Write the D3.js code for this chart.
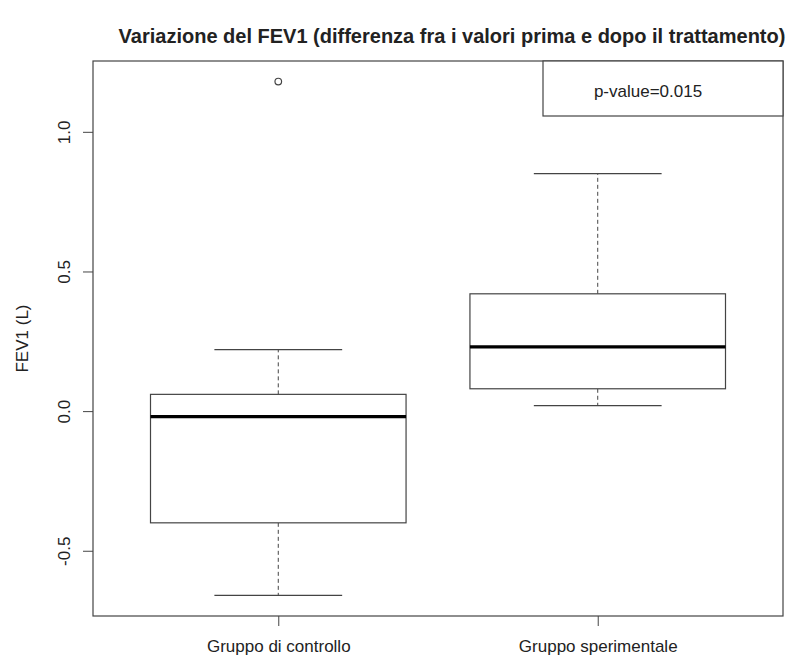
<!DOCTYPE html>
<html>
<head>
<meta charset="utf-8">
<script src="https://cdn.jsdelivr.net/npm/d3@7"></script>
<style>
  body { margin: 0; background: #fff; }
  text { font-family: "Liberation Sans", Arial, sans-serif; fill: #222; }
</style>
</head>
<body>
<div id="chart"></div>
<script>
// FEV1 change boxplot
const groups = ['Gruppo di controllo', 'Gruppo sperimentale'];
const whiskerLow = [-0.66, 0.02];
const q1 = [-0.40, 0.08];
const medians = [-0.02, 0.23];
const q3 = [0.06, 0.42];
const whiskerHigh = [0.22, 0.85];
const outliers = [[1.18], []];
const yTicks = [-0.5, 0.0, 0.5, 1.0];
const pValueText = 'p-value=0.015';

const W = 794, H = 655;
const plot = { left: 93, right: 783, top: 61, bottom: 616 };
const labelSize = '17px';

const svg = d3.select('#chart').append('svg')
  .attr('width', W).attr('height', H);

// R-like 4% axis expansion
const allVals = d3.merge([whiskerLow, whiskerHigh, d3.merge(outliers)]);
const [lo, hi] = d3.extent(allVals);
const pad = (hi - lo) * 0.04;
const y = d3.scaleLinear().domain([lo - pad, hi + pad]).range([plot.bottom, plot.top]);
const x = d3.scaleLinear().domain([0.42, groups.length + 0.58]).range([plot.left, plot.right]);

const stroke = '#444';
const fmt = d => d3.format('.1f')(d).replace('\u2212', '-');

// y axis
const yAxisG = svg.append('g').attr('transform', `translate(${plot.left},0)`)
  .call(d3.axisLeft(y).tickValues(yTicks).tickSize(10).tickFormat(fmt));
yAxisG.select('.domain').remove();
yAxisG.selectAll('line').attr('stroke', stroke);
yAxisG.selectAll('text')
  .attr('x', 0).attr('dy', 0)
  .attr('transform', 'translate(-23,0) rotate(-90)')
  .attr('text-anchor', 'middle')
  .style('font-size', labelSize).style('font-family', '"Liberation Sans", Arial, sans-serif')
  .attr('fill', '#222');

// x axis
const xAxisG = svg.append('g').attr('transform', `translate(0,${plot.bottom})`)
  .call(d3.axisBottom(x).tickValues(groups.map((g, i) => i + 1)).tickSize(10)
    .tickFormat((d, i) => groups[i]));
xAxisG.select('.domain').remove();
xAxisG.selectAll('line').attr('stroke', stroke);
xAxisG.selectAll('text')
  .attr('y', 36).attr('dy', 0)
  .style('font-size', labelSize).style('font-family', '"Liberation Sans", Arial, sans-serif')
  .attr('fill', '#222');

// plot frame
svg.append('rect')
  .attr('x', plot.left).attr('y', plot.top)
  .attr('width', plot.right - plot.left).attr('height', plot.bottom - plot.top)
  .attr('fill', 'none').attr('stroke', stroke).attr('stroke-width', 1.2);

// boxes
const boxHalf = x(1.4) - x(1);
const capHalf = x(1.2) - x(1);
const boxes = svg.append('g').selectAll('g').data(groups).join('g');

boxes.append('line') // upper whisker
  .attr('x1', (d, i) => x(i + 1)).attr('x2', (d, i) => x(i + 1))
  .attr('y1', (d, i) => y(q3[i])).attr('y2', (d, i) => y(whiskerHigh[i]))
  .attr('stroke', stroke).attr('stroke-dasharray', '4,3');
boxes.append('line') // lower whisker
  .attr('x1', (d, i) => x(i + 1)).attr('x2', (d, i) => x(i + 1))
  .attr('y1', (d, i) => y(q1[i])).attr('y2', (d, i) => y(whiskerLow[i]))
  .attr('stroke', stroke).attr('stroke-dasharray', '4,3');
boxes.append('line') // upper staple
  .attr('x1', (d, i) => x(i + 1) - capHalf).attr('x2', (d, i) => x(i + 1) + capHalf)
  .attr('y1', (d, i) => y(whiskerHigh[i])).attr('y2', (d, i) => y(whiskerHigh[i]))
  .attr('stroke', stroke).attr('stroke-width', 1.2);
boxes.append('line') // lower staple
  .attr('x1', (d, i) => x(i + 1) - capHalf).attr('x2', (d, i) => x(i + 1) + capHalf)
  .attr('y1', (d, i) => y(whiskerLow[i])).attr('y2', (d, i) => y(whiskerLow[i]))
  .attr('stroke', stroke).attr('stroke-width', 1.2);
boxes.append('rect')
  .attr('x', (d, i) => x(i + 1) - boxHalf).attr('width', 2 * boxHalf)
  .attr('y', (d, i) => y(q3[i])).attr('height', (d, i) => y(q1[i]) - y(q3[i]))
  .attr('fill', '#fff').attr('stroke', stroke).attr('stroke-width', 1.2);
boxes.append('line') // median
  .attr('x1', (d, i) => x(i + 1) - boxHalf).attr('x2', (d, i) => x(i + 1) + boxHalf)
  .attr('y1', (d, i) => y(medians[i])).attr('y2', (d, i) => y(medians[i]))
  .attr('stroke', '#000').attr('stroke-width', 3.2);

// outliers
svg.append('g').selectAll('circle')
  .data(d3.merge(outliers.map((arr, i) => arr.map(v => ({ g: i, v })))))
  .join('circle')
  .attr('cx', d => x(d.g + 1)).attr('cy', d => y(d.v)).attr('r', 3.3)
  .attr('fill', 'none').attr('stroke', stroke).attr('stroke-width', 1.2);

// legend box (top right)
const legend = svg.append('g');
legend.append('rect')
  .attr('x', 543).attr('y', plot.top)
  .attr('width', plot.right - 543).attr('height', 55)
  .attr('fill', '#fff').attr('stroke', stroke).attr('stroke-width', 1.2);
legend.append('text')
  .attr('x', 648).attr('y', 97).attr('text-anchor', 'middle')
  .style('font-size', labelSize).text(pValueText);

// y label
svg.append('text')
  .attr('transform', `translate(28,${(plot.top + plot.bottom) / 2}) rotate(-90)`)
  .attr('text-anchor', 'middle').style('font-size', labelSize)
  .text('FEV1 (L)');

// title
svg.append('text')
  .attr('x', 452).attr('y', 43).attr('text-anchor', 'middle')
  .style('font-size', '20px').style('font-weight', 'bold').attr('fill', '#000')
  .text('Variazione del FEV1 (differenza fra i valori prima e dopo il trattamento)');
</script>
</body>
</html>
